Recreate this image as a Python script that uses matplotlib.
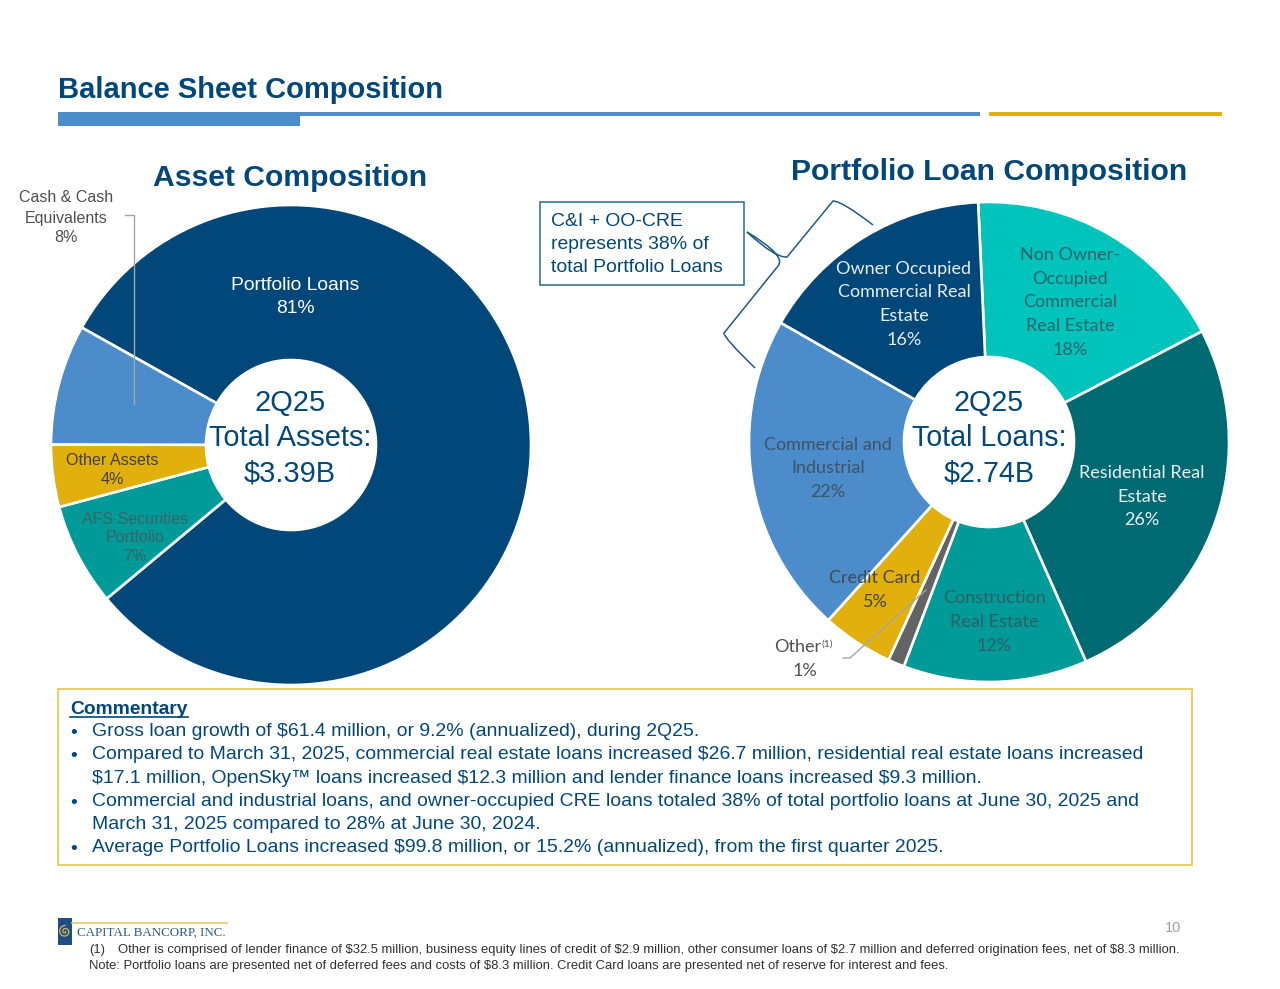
#!/usr/bin/env python3
"""Balance sheet composition slide, 2Q25"""

import numpy as np
import matplotlib
matplotlib.use("Agg")
import matplotlib.pyplot as plt
from matplotlib.patches import Rectangle, PathPatch
from matplotlib.path import Path

W, H = 1280, 989

NAVY = "#02477A"
BLUE = "#4C8CCB"
GOLD = "#E2B00C"

# asset pie, clockwise from the Portfolio Loans edge
asset_names = ["Portfolio Loans", "AFS Securities", "Other Assets", "Cash & Cash Equivalents"]
asset_values = [80.8, 6.9, 4.2, 8.1]
asset_colors = [NAVY, "#009A98", GOLD, BLUE]

# loan pie, clockwise from the top
loan_names = ["Non Owner-Occupied CRE", "Residential Real Estate", "Construction Real Estate",
              "Other", "Credit Card", "Commercial and Industrial", "Owner Occupied CRE"]
loan_values = [18.1, 26.0, 12.4, 1.1, 4.8, 21.6, 16.0]
loan_colors = ["#00C4BB", "#006A73", "#009A98", "#636363", GOLD, BLUE, NAVY]

commentary = [
    (92, 730, "Gross loan growth of $61.4 million, or 9.2% (annualized), during 2Q25.", True),
    (92, 753, "Compared to March 31, 2025, commercial real estate loans increased $26.7 million, residential real estate loans increased", True),
    (92, 777, "$17.1 million, OpenSky\u2122 loans increased $12.3 million and lender finance loans increased $9.3 million.", False),
    (92, 800, "Commercial and industrial loans, and owner-occupied CRE loans totaled 38% of total portfolio loans at June 30, 2025 and", True),
    (92, 823, "March 31, 2025 compared to 28% at June 30, 2024.", False),
    (92, 846, "Average Portfolio Loans increased $99.8 million, or 15.2% (annualized), from the first quarter 2025.", True),
]

plt.rcParams["font.family"] = ["Liberation Sans", "DejaVu Sans"]

fig = plt.figure(figsize=(W / 100, H / 100), dpi=100, facecolor="white")


def draw_pie(cx, cy, r, hole, values, colors, start):
    ax = fig.add_axes([(cx - r) / W, 1 - (cy + r) / H, 2 * r / W, 2 * r / H])
    ax.pie(values, colors=colors, startangle=start, counterclock=False, radius=1,
           wedgeprops=dict(width=1 - hole / r, edgecolor="white", linewidth=1.9))
    ax.set_xlim(-1, 1)
    ax.set_ylim(-1, 1)
    for p in ax.patches:
        p.set_clip_on(False)
    return ax


draw_pie(291, 445, 240, 85, asset_values, asset_colors, 150.7)
draw_pie(989, 442, 240, 85, loan_values, loan_colors, 92.6)

# overlay in pixel coordinates for everything else
ov = fig.add_axes([0, 0, 1, 1], zorder=5)
ov.set_xlim(0, W)
ov.set_ylim(H, 0)
ov.axis("off")


def label(x, y, s, size, color, ha="center", **kw):
    # nudged down because va=center sits a bit high against the slide text
    ov.text(x, y + 1.5, s, fontsize=size, color=color, ha=ha, va="center", parse_math=False, **kw)


# header
label(58, 88, "Balance Sheet Composition", 20.95, NAVY, ha="left", fontweight="bold")
ov.add_patch(Rectangle((58, 112), 922, 4, color=BLUE, lw=0))
ov.add_patch(Rectangle((58, 113), 242, 13, color=BLUE, lw=0))
ov.add_patch(Rectangle((989, 112), 233, 3.5, color=GOLD, lw=0))

label(290, 176, "Asset Composition", 21.7, NAVY, fontweight="bold")
label(989, 171, "Portfolio Loan Composition", 21.7, NAVY, fontweight="bold")

# left pie labels
for y, s in [(196, "Cash & Cash"), (217, "Equivalents"), (236, "8%")]:
    label(66, y, s, 11.5, "#505050")
ov.plot([125, 134, 134], [215, 215, 404], color="#A6A6A6", lw=1)
label(295, 284, "Portfolio Loans", 13.9, "white")
label(295, 307, "81%", 13.9, "white")
label(112, 459, "Other Assets", 11.6, "#404040")
label(112, 478, "4%", 11.6, "#404040")
for y, s in [(518, "AFS Securities"), (536, "Portfolio"), (555, "7%")]:
    label(135, y, s, 11.5, "#3A6468")
for y, s in [(402, "2Q25"), (437, "Total Assets:"), (472, "$3.39B")]:
    label(290, y, s, 20.9, NAVY)

# right pie labels
LOAN_FONT = ["Lato", "DejaVu Sans"]


def loan_label(x, ys, lines, color):
    for y, s in zip(ys, lines):
        label(x, y - 0.5, s, 13, color, family=LOAN_FONT)


loan_label(904, [268, 291, 315, 339], ["Owner Occupied", "Commercial Real", "Estate", "16%"], "#E8EEF3")
loan_label(1070, [254, 278, 301, 325, 349], ["Non Owner-", "Occupied", "Commercial", "Real Estate", "18%"], "#31636B")
loan_label(1142, [472, 496, 519], ["Residential Real", "Estate", "26%"], "#E8EEF3")
loan_label(994, [597, 621, 645], ["Construction", "Real Estate", "12%"], "#2F5F66")
loan_label(828, [444, 467, 491], ["Commercial and", "Industrial", "22%"], "#3D5366")
loan_label(875, [577, 601], ["Credit Card", "5%"], "#404A50")
label(798, 646, "Other", 13, "#505050", family=LOAN_FONT)
label(827, 643, "(1)", 7.5, "#505050", family=LOAN_FONT)
label(805, 670, "1%", 13, "#505050", family=LOAN_FONT)
ov.plot([843, 850, 926], [658, 658, 590], color="#A6A6A6", lw=1)
for y, s in [(402, "2Q25"), (437, "Total Loans:"), (472, "$2.74B")]:
    label(989, y, s, 20.6, NAVY)

# callout box and brace
ov.add_patch(Rectangle((539.5, 201.5), 204, 83, fill=False, edgecolor="#2A6A96", lw=1.1))
for y, s in [(220, "C&I + OO-CRE"), (243, "represents 38% of"), (266.5, "total Portfolio Loans")]:
    label(551, y, s, 13.95, NAVY, ha="left")
brace = Path(
    [(747, 232), (775, 258), (787, 257), (833, 201), (842, 201), (873, 225),
     (747, 232), (787, 256), (778, 266), (724, 333), (724, 338), (755, 368)],
    [Path.MOVETO, Path.CURVE3, Path.CURVE3, Path.LINETO, Path.CURVE3, Path.CURVE3,
     Path.MOVETO, Path.CURVE3, Path.CURVE3, Path.LINETO, Path.CURVE3, Path.CURVE3])
ov.add_patch(PathPatch(brace, fill=False, edgecolor="#1F5A85", lw=1.1))

# commentary box
ov.add_patch(Rectangle((58, 689), 1134, 176, fill=False, edgecolor="#E8C547", lw=1.2))
label(70, 708, "Commentary", 13.9, NAVY, ha="left", fontweight="bold")
ov.plot([70, 188], [717, 717], color=NAVY, lw=1.2)
for x, y, s, bullet in commentary:
    label(x, y, s, 13.92, NAVY, ha="left")
    if bullet:
        label(74, y + 2, "\u2022", 14, NAVY)

# logo
ov.add_patch(Rectangle((58, 918), 14, 27, color="#1F4E86", lw=0))
t = np.linspace(0, 3.5 * np.pi, 80)
ov.plot(65 + (0.6 + 0.5 * t) * np.cos(t), 931.5 + (0.6 + 0.5 * t) * np.sin(t), color="#D8B84A", lw=0.9)
ov.plot([72, 227], [923, 923], color="#E8C96A", lw=1.2)
label(77, 931, "CAPITAL BANCORP, INC.", 9.35, "#2C5C8C", ha="left", family=["Liberation Serif", "DejaVu Serif"])

# footer
label(1173, 927, "10", 10.5, "#A0A0A0")
label(89, 949, "(1)", 9.38, "#303030", ha="left")
label(118, 949, "Other is comprised of lender finance of $32.5 million, business equity lines of credit of $2.9 million, "
      "other consumer loans of $2.7 million and deferred origination fees, net of $8.3 million.", 9.38, "#303030", ha="left")
label(89, 964, "Note: Portfolio loans are presented net of deferred fees and costs of $8.3 million. "
      "Credit Card loans are presented net of reserve for interest and fees.", 9.38, "#303030", ha="left")

fig.savefig("out.png", dpi=100)
